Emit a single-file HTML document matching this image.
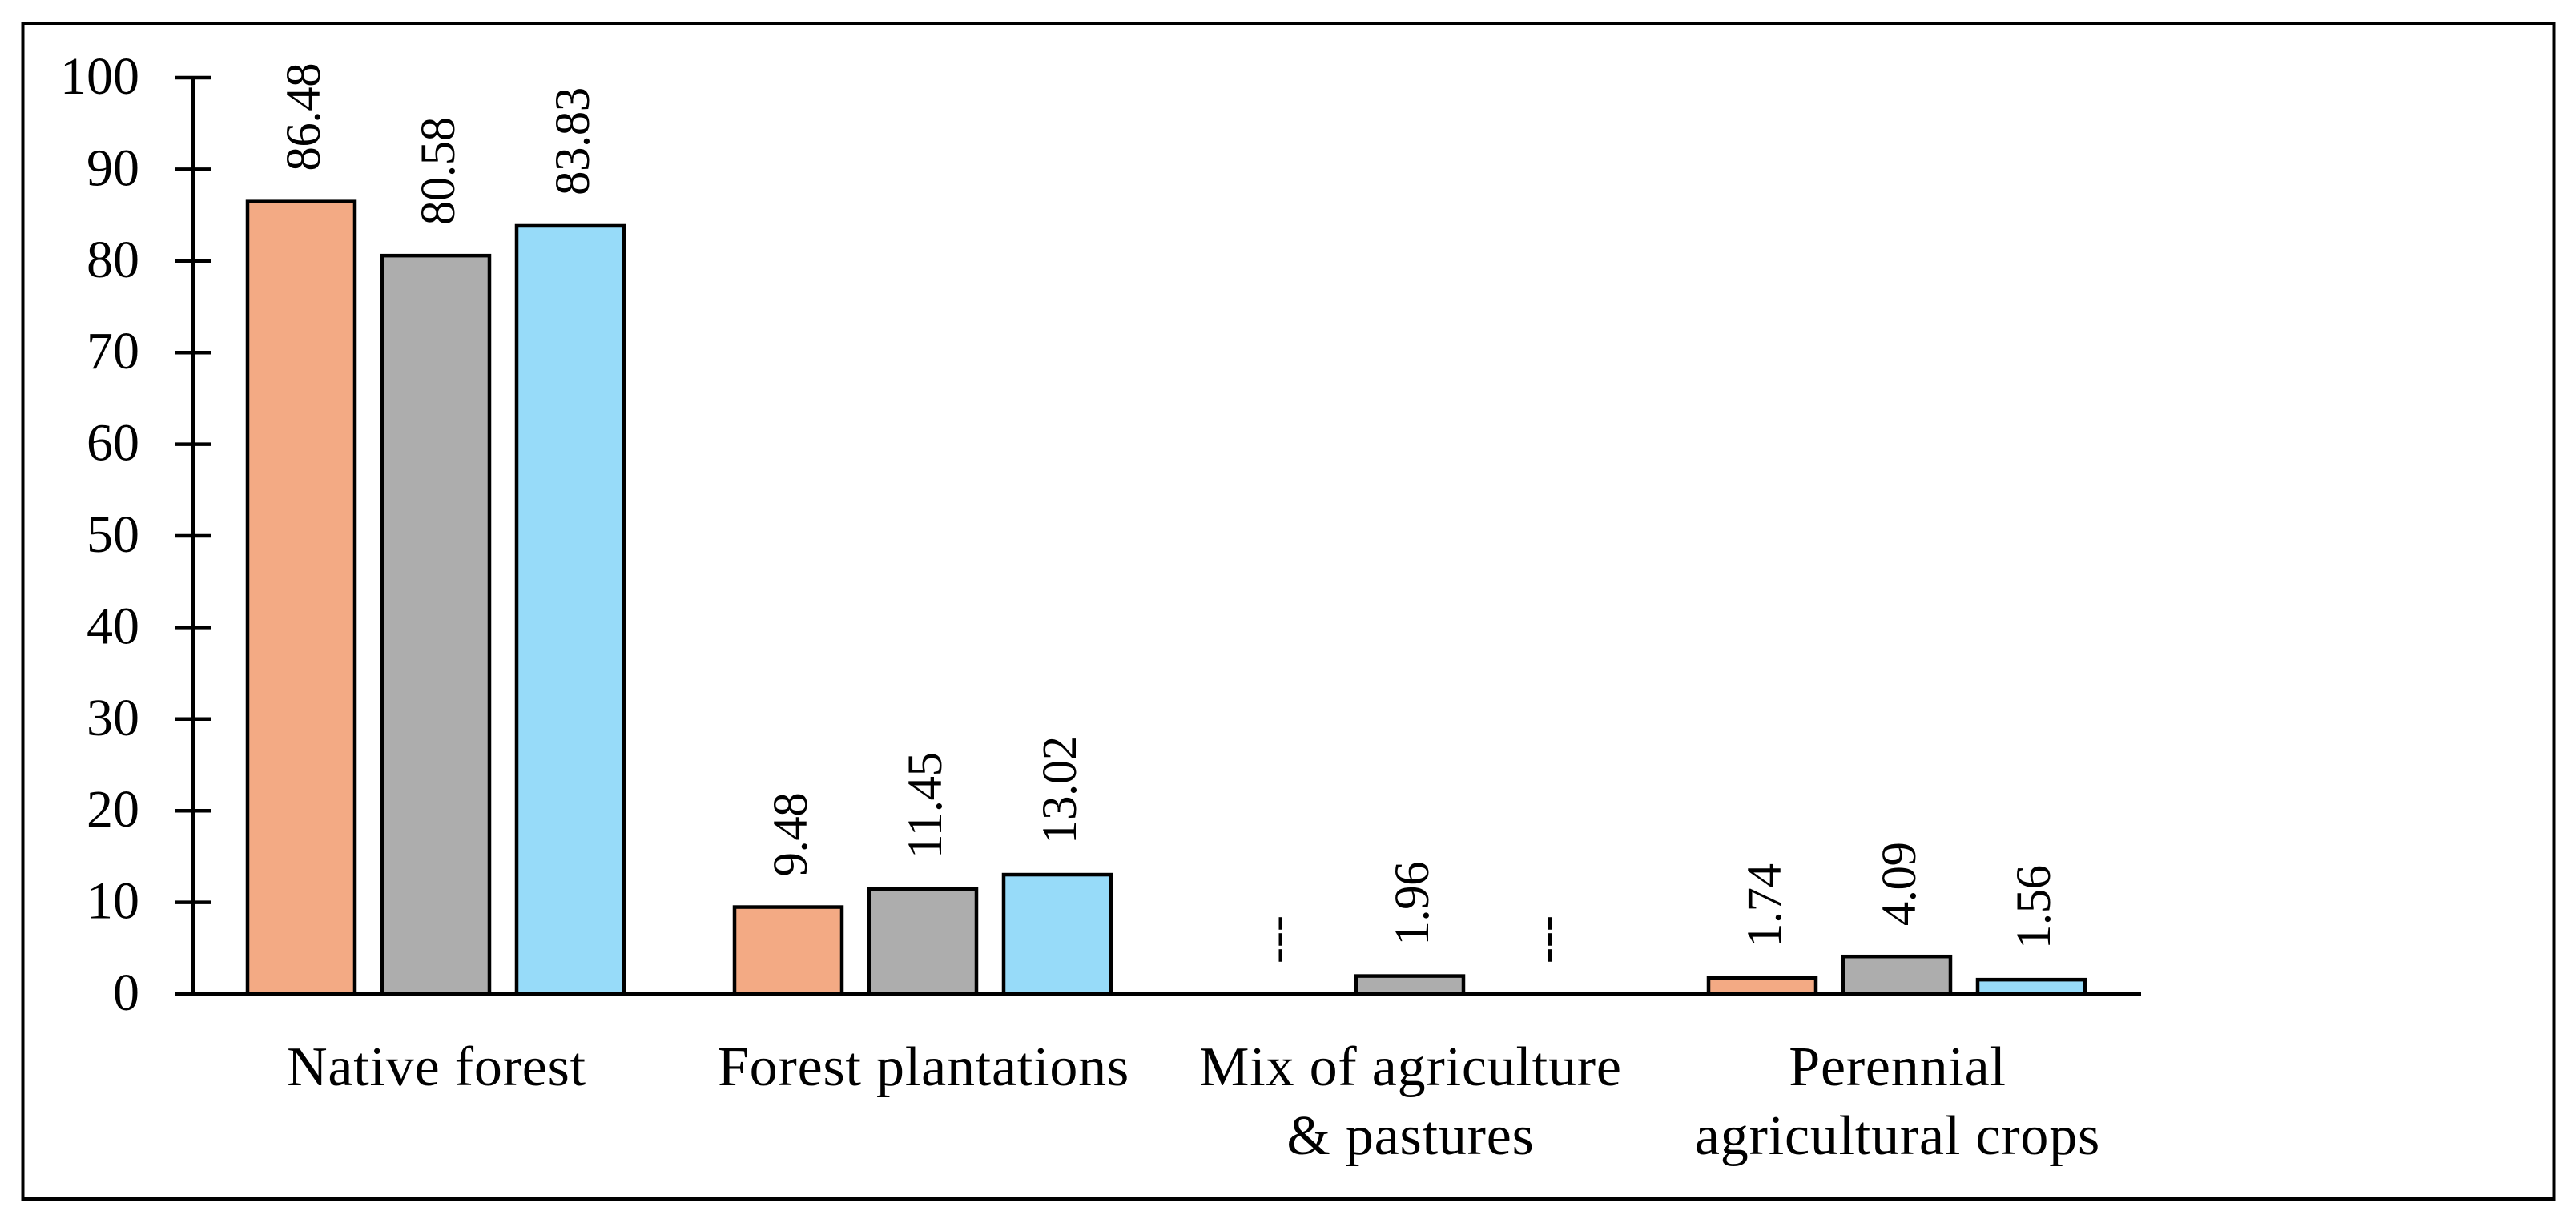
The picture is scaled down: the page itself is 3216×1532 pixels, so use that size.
<!DOCTYPE html>
<html lang="en">
<head>
<meta charset="utf-8">
<title>Land use percentage bar chart</title>
<style>
html,body{margin:0;padding:0;background:#fff;width:3216px;height:1532px;overflow:hidden}
svg{display:block}
text{font-family:"Liberation Serif",serif;fill:#000}
</style>
</head>
<body>
<svg id="chart" xmlns="http://www.w3.org/2000/svg" width="3216" height="1532" viewBox="0 0 3216 1532">
<rect x="28.5" y="29" width="3160" height="1468" fill="#fff" stroke="#000" stroke-width="4"/>
</svg>
<script>
const categories = [
  ["Native forest"],
  ["Forest plantations"],
  ["Mix of agriculture", "& pastures"],
  ["Perennial", "agricultural crops"]
];
const seriesOrange = [86.48, 9.48, null, 1.74];
const seriesGray = [80.58, 11.45, 1.96, 4.09];
const seriesBlue = [83.83, 13.02, null, 1.56];
const yTicks = [0, 10, 20, 30, 40, 50, 60, 70, 80, 90, 100];

const NS = 'http://www.w3.org/2000/svg';
const svg = document.getElementById('chart');
const allSeries = [seriesOrange, seriesGray, seriesBlue];
const seriesFills = ['#F3AA84', '#ADADAD', '#97DBF9'];
const seriesNames = ['orange', 'gray', 'blue'];

function yScale(v) { return 1241 - v * 11.44; }
function groupCenter(i) { return 544 + i * 608; }
function barCenter(i, j) { return groupCenter(i) + (j - 1) * 168; }

function line(x1, y1, x2, y2, w) {
  const el = document.createElementNS(NS, 'line');
  el.setAttribute('x1', x1);
  el.setAttribute('y1', y1);
  el.setAttribute('x2', x2);
  el.setAttribute('y2', y2);
  el.setAttribute('stroke', '#000');
  el.setAttribute('stroke-width', w);
  svg.appendChild(el);
  return el;
}

function label(str, x, y, size, anchor, rotated) {
  const el = document.createElementNS(NS, 'text');
  el.textContent = str;
  el.setAttribute('font-size', size);
  el.setAttribute('text-anchor', anchor);
  if (rotated) {
    el.setAttribute('transform', 'translate(' + x + ' ' + y + ') rotate(-90)');
  } else {
    el.setAttribute('x', x);
    el.setAttribute('y', y);
  }
  svg.appendChild(el);
  return el;
}

// y axis
const yAxis = line(241, yScale(100) - 2, 241, yScale(0), 4);



yTicks.forEach(function (t) {
  if (t > 0) {
    const tick = line(218, yScale(t), 264, yScale(t), 4.5);
    
    
  }
  const tl = label(String(t), 174, yScale(t) + 20, 66, 'end', false);
  
  
});

// bars and value labels
allSeries.forEach(function (values, j) {
  values.forEach(function (v, i) {
    const cx = barCenter(i, j);
    if (v === null) {
      const dash = label('---', cx + 21, yScale(0) - 38, 60, 'start', true);
      
      
      return;
    }
    const bar = document.createElementNS(NS, 'rect');
    bar.setAttribute('x', cx - 67);
    bar.setAttribute('y', yScale(v));
    bar.setAttribute('width', 134);
    bar.setAttribute('height', yScale(0) - yScale(v));
    bar.setAttribute('fill', seriesFills[j]);
    bar.setAttribute('stroke', '#000');
    bar.setAttribute('stroke-width', 4.5);
    
    
    svg.appendChild(bar);
    const vl = label(v.toFixed(2), cx + 23, yScale(v) - 38, 61, 'start', true);
    vl.setAttribute('letter-spacing', '-0.5');
    
    
  });
});

// x axis
const xAxis = line(218, yScale(0), 2673, yScale(0), 5.5);



// category labels
categories.forEach(function (lines, i) {
  lines.forEach(function (txt, k) {
    const cl = label(txt, groupCenter(i) + 1, 1355 + k * 86, 70, 'middle', false);
    cl.setAttribute('letter-spacing', '0.8');
    
    
  });
});
</script>
</body>
</html>
